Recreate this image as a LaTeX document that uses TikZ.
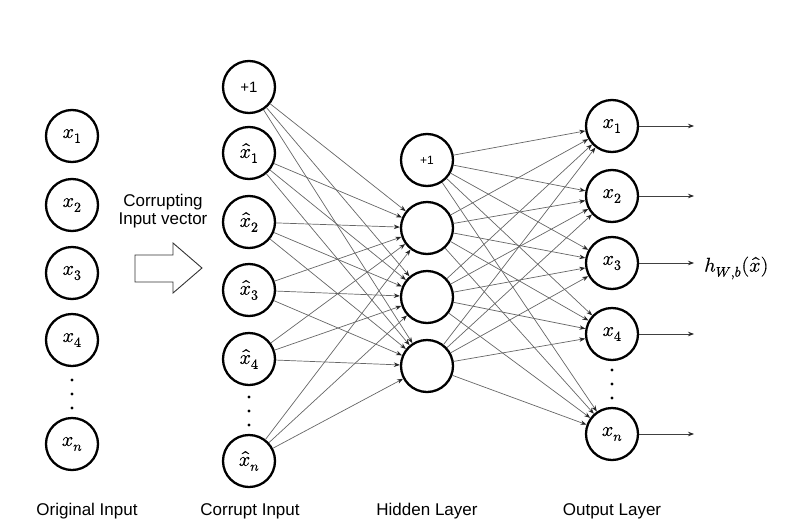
\documentclass[tikz,border=0pt]{standalone}
\usepackage{fontspec}
\setmainfont{Liberation Sans}
\usepackage{unicode-math}
\setmathfont{Latin Modern Math}[FakeBold=0.5]
\usetikzlibrary{arrows.meta}
\begin{document}
\begin{tikzpicture}[x=1pt,y=-1pt,
  neuron/.style={circle,draw=black,line width=2.3pt,minimum size=52pt,inner sep=0pt,fill=white,font=\fontsize{20}{24}\selectfont},
  bias/.style={neuron,font=\fontsize{15}{18}\selectfont},
  hbias/.style={neuron,font=\fontsize{12}{14}\selectfont},
  conn/.style={draw=black!60,line width=0.7pt,-{Stealth[length=6pt,width=4.5pt,black!85]}},
  outarr/.style={draw=black!75,line width=0.8pt,-{Stealth[length=6pt,width=4.5pt,black!85]}},
  lbl/.style={font=\fontsize{17}{20}\selectfont},
  vdot/.style={circle,fill=black,inner sep=0pt,minimum size=3.4pt}]
\useasboundingbox (0,0) rectangle (799,522);
% original input
\node[neuron] (o1) at (72,136) {$x_1$};
\node[neuron] (o2) at (72,205) {$x_2$};
\node[neuron] (o3) at (72,273) {$x_3$};
\node[neuron] (o4) at (72,340) {$x_4$};
\node[neuron] (on) at (72,444) {$x_n$};
\node[vdot] (od1) at (72,380) {};
\node[vdot] (od2) at (72,394) {};
\node[vdot] (od3) at (72,408) {};
% corrupting arrow
\node[lbl,align=center] (ctext) at (163,211) {Corrupting\\[-2pt]Input vector};
\draw[line width=0.9pt,draw=black!80,fill=white] (135,255) -- (173,255) -- (173,243) -- (202,268) -- (173,293) -- (173,282) -- (135,282) -- cycle;
% corrupt input
\node[bias] (c0) at (249,87) {+1};
\node[neuron] (c1) at (249,153) {$\hat{x}_1$};
\node[neuron] (c2) at (249,222) {$\hat{x}_2$};
\node[neuron] (c3) at (249,290) {$\hat{x}_3$};
\node[neuron] (c4) at (249,359) {$\hat{x}_4$};
\node[neuron] (cn) at (249,461) {$\hat{x}_n$};
\node[vdot] (cd1) at (249,397) {};
\node[vdot] (cd2) at (249,411) {};
\node[vdot] (cd3) at (249,425) {};
% hidden
\node[hbias] (h0) at (427,160) {+1};
\node[neuron] (h1) at (427,228) {};
\node[neuron] (h2) at (427,297) {};
\node[neuron] (h3) at (427,366) {};
% output
\node[neuron] (y1) at (612,126) {$x_1$};
\node[neuron] (y2) at (612,196) {$x_2$};
\node[neuron] (y3) at (612,263) {$x_3$};
\node[neuron] (y4) at (612,334) {$x_4$};
\node[neuron] (yn) at (612,434) {$x_n$};
\node[vdot] (yd1) at (612,370) {};
\node[vdot] (yd2) at (612,384) {};
\node[vdot] (yd3) at (612,398) {};
% connections
\foreach \a in {c0,c1,c2,c3,c4,cn}
  \foreach \b in {h1,h2,h3}
    \draw[conn] (\a) -- (\b);
\foreach \a in {h0,h1,h2,h3}
  \foreach \b in {y1,y2,y3,y4,yn}
    \draw[conn] (\a) -- (\b);
% outputs
\coordinate (e1) at (694,126);
\coordinate (e2) at (694,196);
\coordinate (e3) at (694,263);
\coordinate (e4) at (694,334);
\coordinate (en) at (694,434);
\draw[outarr] (y1) -- (e1);
\draw[outarr] (y2) -- (e2);
\draw[outarr] (y3) -- (e3);
\draw[outarr] (y4) -- (e4);
\draw[outarr] (yn) -- (en);
\node[font=\fontsize{20}{24}\selectfont,anchor=west,inner sep=0pt] (hw) at (704,268) {$h_{W,b}(\hat{x})$};
% labels
\node[lbl] (l1) at (87,511) {Original Input};
\node[lbl] (l2) at (250,511) {Corrupt Input};
\node[lbl] (l3) at (427,511) {Hidden Layer};
\node[lbl] (l4) at (612,511) {Output Layer};
\end{tikzpicture}
\end{document}
